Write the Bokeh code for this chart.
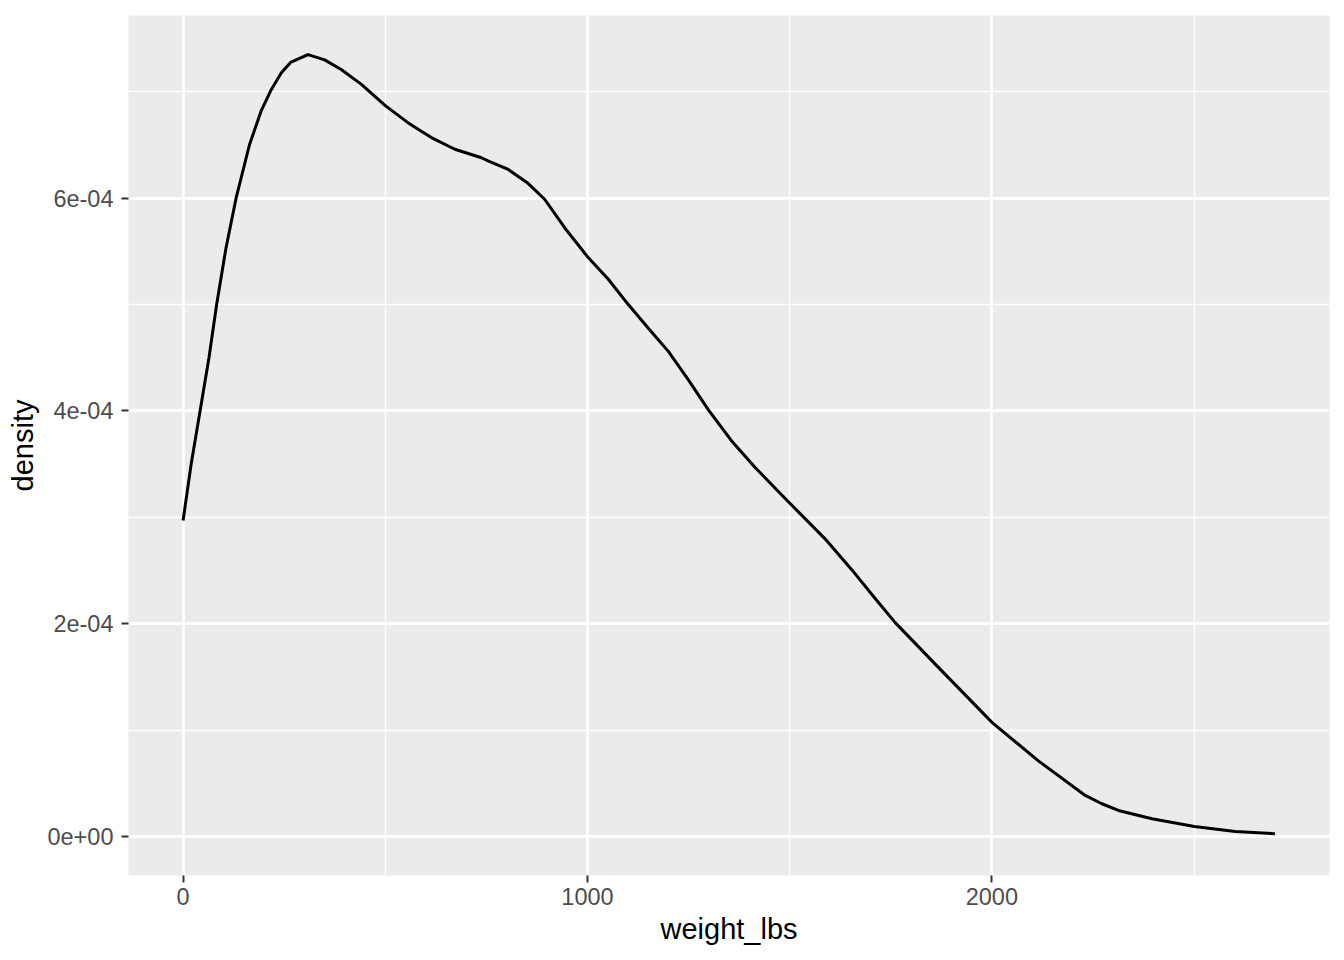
from bokeh.plotting import figure
from bokeh.models import Range1d, FixedTicker
from bokeh.embed import file_html
from bokeh.resources import INLINE

# ---- data ----
weight_lbs = [0, 20, 42, 64, 83, 106, 131, 164, 193, 218, 243, 267, 309, 350, 391,
              441, 500, 556, 589, 614, 672, 738, 754, 804, 853, 894, 944, 1000,
              1051, 1101, 1150, 1200, 1250, 1299, 1356, 1414, 1501, 1587, 1653, 1715,
              1761, 1860, 2001, 2115, 2231, 2272, 2313, 2396, 2501, 2602, 2700]
density = [2.97e-4, 3.50e-4, 4.00e-4, 4.50e-4, 5.00e-4, 5.53e-4, 6.00e-4, 6.50e-4,
           6.82e-4, 7.02e-4, 7.18e-4, 7.28e-4, 7.35e-4, 7.30e-4, 7.21e-4,
           7.07e-4, 6.87e-4, 6.71e-4, 6.63e-4, 6.57e-4, 6.46e-4, 6.38e-4, 6.35e-4,
           6.27e-4, 6.14e-4, 5.99e-4, 5.72e-4, 5.45e-4,
           5.24e-4, 5.00e-4, 4.78e-4, 4.56e-4, 4.29e-4, 4.01e-4, 3.72e-4, 3.47e-4,
           3.13e-4, 2.80e-4, 2.51e-4, 2.22e-4,
           2.01e-4, 1.62e-4, 1.07e-4, 0.71e-4, 0.385e-4, 0.307e-4, 0.244e-4,
           0.166e-4, 0.094e-4, 0.047e-4, 0.025e-4]

x_ticks = [0, 1000, 2000]
x_tick_labels = ["0", "1000", "2000"]
x_minor = [500, 1500, 2500]
y_ticks = [0.0, 2e-4, 4e-4, 6e-4]
y_tick_labels = ["0e+00", "2e-04", "4e-04", "6e-04"]
y_minor = [1e-4, 3e-4, 5e-4, 7e-4]

x_label = "weight_lbs"
y_label = "density"

# ---- ranges with ggplot-like 5% expansion (density baseline at 0) ----
xmin, xmax = min(weight_lbs), max(weight_lbs)
xpad = 0.05 * (xmax - xmin)
ymin, ymax = 0.0, max(density)
ypad = 0.05 * (ymax - ymin)

FONT = "Liberation Sans"

p = figure(width=1336, height=952, output_backend="svg", toolbar_location=None,
           x_range=Range1d(xmin - xpad, xmax + xpad),
           y_range=Range1d(ymin - ypad, ymax + ypad),
           min_border_left=128, min_border_right=7, min_border_top=15,
           min_border_bottom=77)

p.background_fill_color = "#EBEBEB"
p.border_fill_color = "white"
p.outline_line_color = None

p.xaxis.ticker = FixedTicker(ticks=x_ticks, minor_ticks=x_minor)
p.yaxis.ticker = FixedTicker(ticks=y_ticks, minor_ticks=y_minor)
p.xaxis.major_label_overrides = {t: l for t, l in zip(x_ticks, x_tick_labels)}
p.yaxis.major_label_overrides = {t: l for t, l in zip(y_ticks, y_tick_labels)}

for ax in (p.xaxis, p.yaxis):
    ax.axis_line_color = None
    ax.major_tick_in = 0
    ax.major_tick_out = 7
    ax.major_tick_line_color = "#333333"
    ax.major_tick_line_width = 2
    ax.minor_tick_line_color = None
    ax.major_label_text_font = FONT
    ax.major_label_text_font_size = "23.5px"
    ax.major_label_text_color = "#4D4D4D"
    ax.axis_label_text_font = FONT
    ax.axis_label_text_font_size = "29px"
    ax.axis_label_text_font_style = "normal"
    ax.axis_label_text_color = "black"

p.xaxis.axis_label = x_label
p.yaxis.axis_label = y_label
p.xaxis.major_label_standoff = 5
p.yaxis.major_label_standoff = 8
p.xaxis.axis_label_standoff = 5
p.yaxis.axis_label_standoff = 5

for g in (p.xgrid, p.ygrid):
    g.grid_line_color = "white"
    g.grid_line_width = 2.8
    g.minor_grid_line_color = "white"
    g.minor_grid_line_width = 1.4

p.line(weight_lbs, density, line_color="black", line_width=3, line_join="round")

open("out.html", "w").write(file_html(p, INLINE))
